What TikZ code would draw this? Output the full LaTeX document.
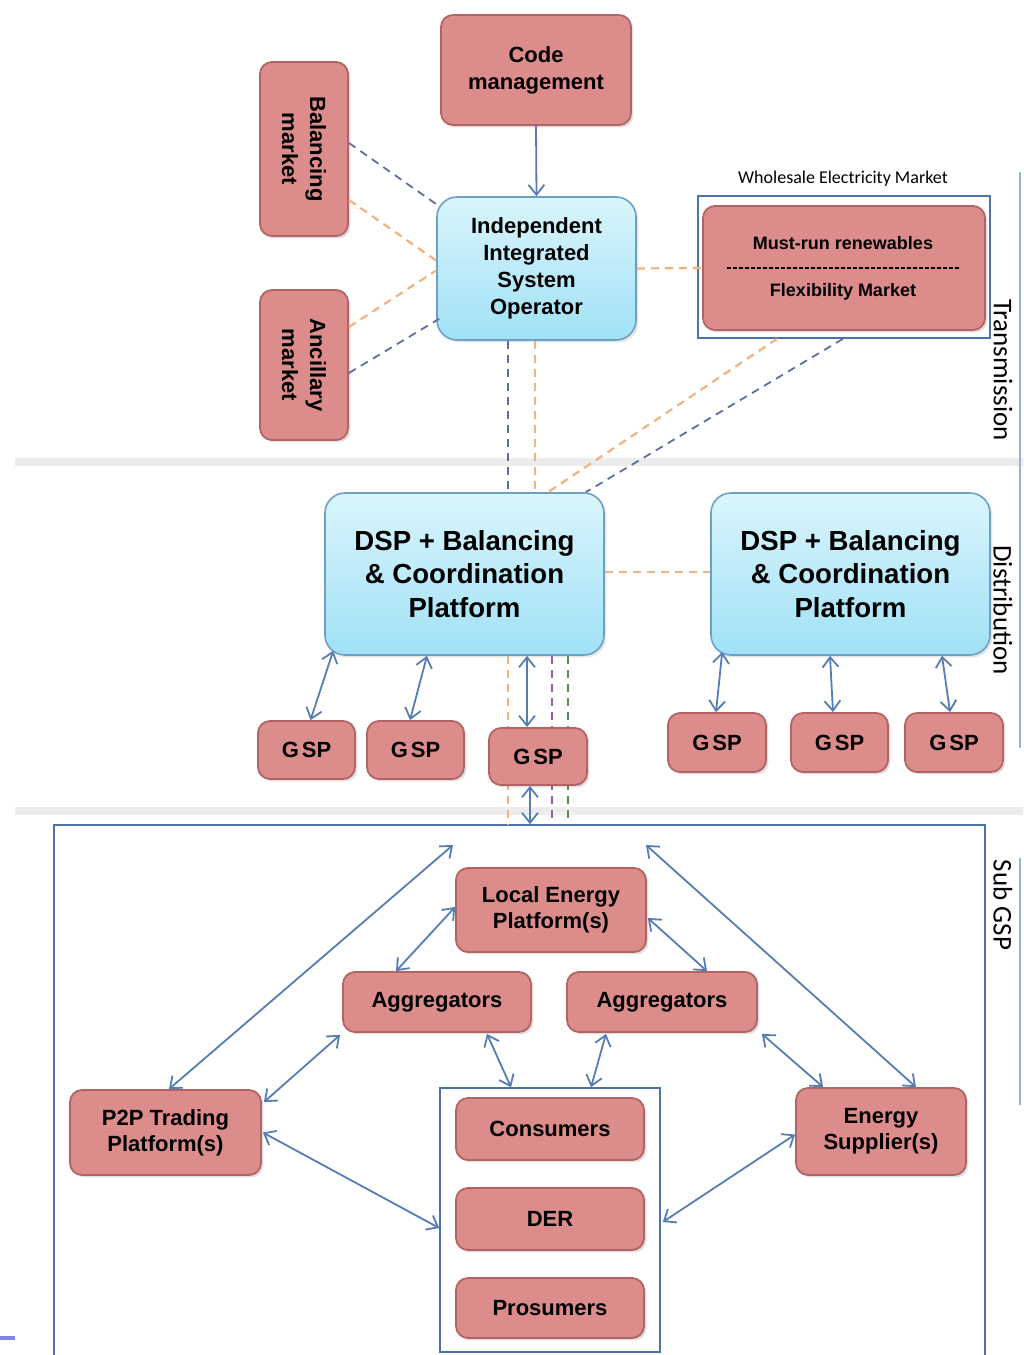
\documentclass[tikz,border=0pt]{standalone}
\usepackage{fontspec}
\setmainfont{Liberation Sans}
\newfontfamily\calib{Carlito}
\usetikzlibrary{arrows.meta,shadows,calc}

\definecolor{pinkfill}{RGB}{220,140,138}
\definecolor{pinkdraw}{RGB}{178,100,100}
\definecolor{arrowblue}{RGB}{85,125,180}
\definecolor{dashorange}{RGB}{242,178,128}
\definecolor{dashblue}{RGB}{95,110,155}
\definecolor{dashpurple}{RGB}{160,90,180}
\definecolor{dashgreen}{RGB}{80,150,80}
\definecolor{cyantop}{RGB}{218,245,252}
\definecolor{cyanbot}{RGB}{160,225,246}
\definecolor{cyandraw}{RGB}{110,160,195}
\definecolor{framecol}{RGB}{75,115,165}
\definecolor{bandgray}{RGB}{236,236,236}
\definecolor{edgeblue}{RGB}{150,180,222}

\begin{document}
\begin{tikzpicture}[x=0.5pt,y=-0.5pt,
  bb/.style n args={4}{at={({(#1+#3)/2},{(#2+#4)/2})},
     minimum width={(#3-#1)*0.5pt}, minimum height={(#4-#2)*0.5pt}},
  pinkbox/.style={draw=pinkdraw, line width=0.9pt, fill=pinkfill,
     rounded corners=6pt, align=center, inner sep=0pt,
     font=\bfseries\fontsize{11}{13.5}\selectfont,
     drop shadow={opacity=0.25,shadow xshift=1.2pt,shadow yshift=-1.2pt}},
  cyanbox/.style={draw=cyandraw, line width=0.8pt, top color=cyantop,
     bottom color=cyanbot, rounded corners=10pt, align=center, inner sep=0pt,
     drop shadow={opacity=0.2,shadow xshift=1.2pt,shadow yshift=-1.2pt}},
  framebox/.style={draw=framecol, line width=0.8pt, inner sep=0pt},
  biarrow/.style={draw=arrowblue, line width=0.9pt,
     {Straight Barb[length=5pt,width=8pt]}-{Straight Barb[length=5pt,width=8pt]}},
  onearrow/.style={draw=arrowblue, line width=0.9pt,
     -{Straight Barb[length=5pt,width=8pt]}},
  odash/.style={draw=dashorange, line width=1.1pt, dash pattern=on 4pt off 3pt},
  bdash/.style={draw=dashblue, line width=0.9pt, dash pattern=on 4pt off 3pt},
  pdash/.style={draw=dashpurple, line width=0.8pt, dash pattern=on 4pt off 3pt},
  gdash/.style={draw=dashgreen, line width=0.8pt, dash pattern=on 4pt off 3pt},
  sidelabel/.style={font=\calib\fontsize{13.5}{15}\selectfont, rotate=-90, inner sep=0pt},
  band/.style={draw=bandgray, line width=4pt}
]
\useasboundingbox (0,0) rectangle (1023,1355);

% separator bands
\draw[band] (15,462) -- (1023,462);
\draw[band] (15,811) -- (1023,811);
% right edge lines (cropped)
\draw[draw=edgeblue, line width=1pt] (1020,172) -- (1020,748);
\draw[draw=edgeblue, line width=1pt] (1020,858) -- (1020,1105);
\draw[draw={rgb,255:red,130;green,130;blue,230}, line width=2pt] (0,1338) -- (15,1338);

% side labels
\node[sidelabel] (tlab) at (1003,370) {Transmission};
\node[sidelabel] (dlab) at (1003,610) {Distribution};
\node[sidelabel] (slab) at (1003,905) {Sub GSP};

% transmission level
\node[pinkbox, bb={441}{15}{631}{125}] (code) {Code\\management};
\node[pinkbox, rotate=-90, minimum width=87pt, minimum height=44pt,
      at={(304,149)}, font=\bfseries\fontsize{11}{14}\selectfont] (bal) {Balancing\\market};
\node[pinkbox, rotate=-90, minimum width=75pt, minimum height=44pt,
      at={(304,365)}, font=\bfseries\fontsize{11}{14}\selectfont] (anc) {Ancillary\\market};
\node[cyanbox, bb={437}{197}{636}{340}, font=\bfseries\fontsize{11}{13.5}\selectfont] (iso)
   {Independent\\Integrated\\System\\Operator};

\node[font=\calib\fontsize{9}{10}\selectfont, inner sep=0pt] (wlab) at (843,179) {Wholesale Electricity Market};
\node[framebox, bb={698}{196}{990}{338}] (wsm) {};
\node[pinkbox, bb={703}{206}{985}{330}] (wsbox) {};
\node[font=\bfseries\fontsize{9}{10}\selectfont, inner sep=0pt] (mr) at (843,243) {Must-run renewables};
\node[font=\bfseries\fontsize{9}{10}\selectfont, inner sep=0pt] (fm) at (843,292) {Flexibility Market};
\draw[line width=0.6pt, dash pattern=on 2pt off 1pt] ($(wsbox.west)+(25,0)$) -- ($(wsbox.east)+(-27,0)$);

\draw[onearrow] (code.south) -- (iso.north);

% distribution level
\node[cyanbox, bb={325}{493}{604}{655}, font=\bfseries\fontsize{13.8}{16.8}\selectfont] (dsp1)
   {DSP + Balancing\\\& Coordination\\Platform};
\node[cyanbox, bb={711}{493}{990}{655}, font=\bfseries\fontsize{13.8}{16.8}\selectfont] (dsp2)
   {DSP + Balancing\\\& Coordination\\Platform};

% sub GSP frame
\node[framebox, bb={54}{825}{985}{1370}] (sub) {};

% dashed links (transmission)
\draw[bdash] ($(bal.north)+(0,-6)$) -- ($(iso.north west)+(3,10)$);
\draw[odash] ($(bal.north)+(0,51)$) -- ($(iso.west)+(0,-8)$);
\draw[odash] ($(anc.north)+(0,-38)$) -- ($(iso.west)+(0,2)$);
\draw[bdash] ($(anc.north)+(0,8)$) -- ($(iso.south west)+(3,-22)$);
\draw[odash] (iso.east) -- (wsbox.west);
\draw[bdash] ($(iso.south)+(-28.5,0)$) -- ($(dsp1.north)+(43.5,0)$);
\draw[odash] ($(iso.south)+(-1.5,0)$) -- ($(dsp1.north)+(70.5,0)$);
\draw[odash] ($(wsm.south)+(-67,0)$) -- ($(dsp1.north)+(83.5,0)$);
\draw[bdash] ($(wsm.south)+(-1,0)$) -- ($(dsp1.north east)+(-19,0)$);
\draw[odash] ($(dsp1.east)+(0,-2)$) -- ($(dsp2.west)+(0,-2)$);

% dashed links down to sub GSP
\coordinate (dso) at ($(dsp1.south)+(43.5,0)$);
\coordinate (dsp) at ($(dsp1.south)+(87.5,0)$);
\coordinate (dsg) at ($(dsp1.south)+(103.5,0)$);
\draw[odash, line width=0.8pt] (dso) -- (dso |- sub.north);
\draw[pdash] (dsp) -- (dsp |- sub.north);
\draw[gdash] (dsg) -- (dsg |- sub.north);

% GSPs
\node[pinkbox, bb={258}{721}{355}{779}] (gsp1) {G\kern1.5pt SP};
\node[pinkbox, bb={367}{721}{464}{779}] (gsp2) {G\kern1.5pt SP};
\node[pinkbox, bb={489}{728}{587}{785}] (gsp3) {G\kern1.5pt SP};
\node[pinkbox, bb={668}{713}{766}{772}] (gsp4) {G\kern1.5pt SP};
\node[pinkbox, bb={791}{713}{888}{772}] (gsp5) {G\kern1.5pt SP};
\node[pinkbox, bb={905}{713}{1003}{772}] (gsp6) {G\kern1.5pt SP};

\draw[biarrow] ($(dsp1.south west)+(9,-5)$) -- ($(gsp1.north)+(4,0)$);
\draw[biarrow] ($(dsp1.south)+(-37.5,0)$) -- ($(gsp2.north)+(-5.5,0)$);
\draw[biarrow] ($(dsp1.south)+(62.5,0)$) -- ($(gsp3.north)+(-11,0)$);
\draw[biarrow] ($(dsp2.south west)+(12,-4)$) -- ($(gsp4.north)+(-1,0)$);
\draw[biarrow] ($(dsp2.south)+(-20.5,0)$) -- ($(gsp5.north)+(-6.5,0)$);
\draw[biarrow] ($(dsp2.south)+(91.5,0)$) -- ($(gsp6.north)+(-4,0)$);
\coordinate (g3b) at ($(gsp3.south)+(-8,0)$);
\draw[biarrow] (g3b) -- (g3b |- sub.north);

% sub GSP level
\node[pinkbox, bb={456}{868}{646}{952}, font=\bfseries\fontsize{11}{13}\selectfont] (lep) {Local Energy\\Platform(s)};
\node[pinkbox, bb={343}{972}{531}{1032}] (aggl) {Aggregators};
\node[pinkbox, bb={567}{972}{757}{1032}] (aggr) {Aggregators};
\node[pinkbox, bb={70}{1090}{261}{1175}, font=\bfseries\fontsize{11}{13}\selectfont] (p2p) {P2P Trading\\Platform(s)};
\node[pinkbox, bb={796}{1088}{966}{1175}, font=\bfseries\fontsize{11}{13}\selectfont] (es) {Energy\\Supplier(s)};
\node[framebox, bb={440}{1088}{660}{1352}] (cbox) {};
\node[pinkbox, bb={456}{1098}{644}{1160}] (cons) {Consumers};
\node[pinkbox, bb={456}{1188}{644}{1250}] (der) {DER};
\node[pinkbox, bb={456}{1278}{644}{1338}] (pros) {Prosumers};

\coordinate (ltop) at (453,845);
\coordinate (rtop) at (646,845);

\draw[biarrow] (ltop) -- ($(p2p.north)+(3.5,0)$);
\draw[biarrow] (rtop) -- ($(es.north)+(35,0)$);
\draw[biarrow] ($(lep.west)+(0,-3)$) -- ($(aggl.north)+(-41,0)$);
\draw[biarrow] ($(lep.east)+(1,8)$) -- ($(aggr.north)+(45,0)$);
\draw[biarrow] ($(aggl.south west)+(-2,2)$) -- ($(p2p.north east)+(2,13)$);
\draw[biarrow] ($(aggl.south)+(50,1)$) -- ($(cbox.north)+(-39,0)$);
\draw[biarrow] ($(aggr.south)+(-56,1)$) -- ($(cbox.north)+(41,0)$);
\draw[biarrow] ($(aggr.south east)+(4,1)$) -- ($(es.north west)+(28,0)$);
\draw[biarrow] ($(p2p.east)+(1,0)$) -- ($(cbox.west)+(0,8)$);
\draw[biarrow] ($(es.west)+(0,3)$) -- ($(cbox.east)+(2,2)$);
\end{tikzpicture}
\end{document}
